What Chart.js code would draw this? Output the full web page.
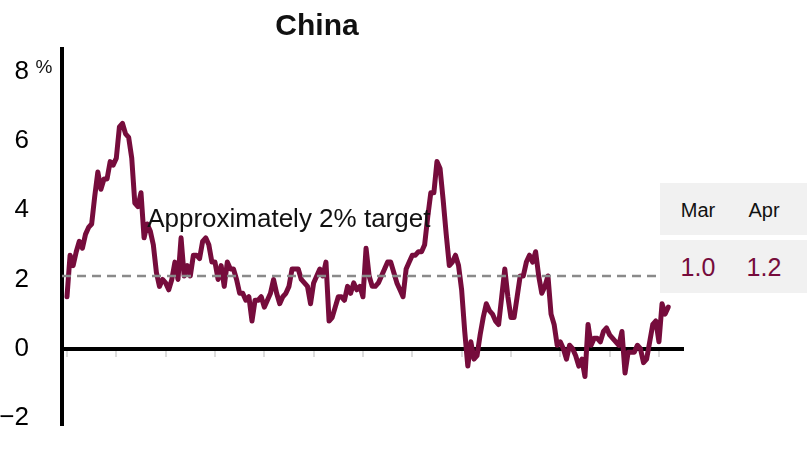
<!DOCTYPE html>
<html>
<head>
<meta charset="utf-8">
<script src="https://cdn.jsdelivr.net/npm/chart.js@4.4.1/dist/chart.umd.min.js"></script>
<style>
  html, body { margin: 0; padding: 0; background: #fff; }
  #wrap { position: relative; width: 807px; height: 476px; font-family: "Liberation Sans", Arial, sans-serif; }
  #chart { position: absolute; left: 0; top: 0; }
  .box { position: absolute; left: 660px; width: 147px; background: #f1f1f1; }
  .cell { position: absolute; width: 66px; text-align: center; }
  #head { top: 183px; height: 52px; }
  #vals { top: 240px; height: 53px; }
  #head .cell { top: 16px; font-size: 20px; color: #111; }
  #vals .cell { top: 13px; font-size: 25px; color: #760c3c; }
</style>
</head>
<body>
<div id="wrap">
  <canvas id="chart" width="807" height="476"></canvas>
  <div class="box" id="head"></div>
  <div class="box" id="vals"></div>
</div>
<script>
// China CPI, % y/y, monthly from Jan 2010
const startYear = 2010;
const monthNames = ['Jan', 'Feb', 'Mar', 'Apr', 'May', 'Jun', 'Jul', 'Aug', 'Sep', 'Oct', 'Nov', 'Dec'];

const cpi2010 = [1.5, 2.7, 2.4, 2.8, 3.1, 2.9, 3.3, 3.5, 3.6, 4.4, 5.1, 4.6];
const cpi2011 = [4.9, 4.9, 5.4, 5.3, 5.5, 6.4, 6.5, 6.2, 6.1, 5.5, 4.2, 4.1];
const cpi2012 = [4.5, 3.2, 3.6, 3.4, 3.0, 2.2, 1.8, 2.0, 1.9, 1.7, 2.0, 2.5];
const cpi2013 = [2.0, 3.2, 2.1, 2.4, 2.1, 2.7, 2.7, 2.6, 3.1, 3.2, 3.0, 2.5];
const cpi2014 = [2.5, 2.0, 2.4, 1.8, 2.5, 2.3, 2.3, 2.0, 1.6, 1.6, 1.4, 1.5];
const cpi2015 = [0.8, 1.4, 1.4, 1.5, 1.2, 1.4, 1.6, 2.0, 1.6, 1.3, 1.5, 1.6];
const cpi2016 = [1.8, 2.3, 2.3, 2.3, 2.0, 1.9, 1.8, 1.3, 1.9, 2.1, 2.3, 2.1];
const cpi2017 = [2.5, 0.8, 0.9, 1.2, 1.5, 1.5, 1.4, 1.8, 1.6, 1.9, 1.7, 1.8];
const cpi2018 = [1.5, 2.9, 2.1, 1.8, 1.8, 1.9, 2.1, 2.3, 2.5, 2.5, 2.2, 1.9];
const cpi2019 = [1.7, 1.5, 2.3, 2.5, 2.7, 2.7, 2.8, 2.8, 3.0, 3.8, 4.5, 4.5];
const cpi2020 = [5.4, 5.2, 4.3, 3.3, 2.4, 2.5, 2.7, 2.4, 1.7, 0.5, -0.5, 0.2];
const cpi2021 = [-0.3, -0.2, 0.4, 0.9, 1.3, 1.1, 1.0, 0.8, 0.7, 1.5, 2.3, 1.5];
const cpi2022 = [0.9, 0.9, 1.5, 2.1, 2.1, 2.5, 2.7, 2.5, 2.8, 2.1, 1.6, 1.8];
const cpi2023 = [2.1, 1.0, 0.7, 0.1, 0.2, 0.0, -0.3, 0.1, 0.0, -0.2, -0.5, -0.3];
const cpi2024 = [-0.8, 0.7, 0.1, 0.3, 0.3, 0.2, 0.5, 0.6, 0.4, 0.3, 0.2, 0.1];
const cpi2025 = [0.5, -0.7, -0.1, -0.1, -0.1, 0.1, 0.0, -0.4, -0.3, 0.2, 0.7, 0.8];
const cpi2026 = [0.2, 1.3, 1.0, 1.2];

const yTicks = [-2, 0, 2, 4, 6, 8];
const xTickEvery = 16;          // months between x tick marks
const targetValue = 2.1;        // dashed "approximately 2%" line
const targetLabel = 'Approximately 2% target';
const chartTitle = 'China';

const cpi = [].concat(cpi2010, cpi2011, cpi2012, cpi2013, cpi2014, cpi2015, cpi2016,
    cpi2017, cpi2018, cpi2019, cpi2020, cpi2021, cpi2022, cpi2023, cpi2024, cpi2025, cpi2026);
const labels = cpi.map((v, i) => monthNames[i % 12] + ' ' + (startYear + Math.floor(i / 12)));

const lineColor = '#760c3c';

// latest two months table
const head = document.getElementById('head');
const vals = document.getElementById('vals');
cpi.slice(-2).forEach((v, k) => {
    const i = cpi.length - 2 + k;
    const left = (5 + k * 66) + 'px';
    const h = document.createElement('div');
    h.className = 'cell'; h.style.left = left; h.textContent = monthNames[i % 12];
    head.appendChild(h);
    const c = document.createElement('div');
    c.className = 'cell'; c.style.left = left; c.textContent = v.toFixed(1);
    vals.appendChild(c);
});

const overlay = {
    id: 'overlay',
    afterDatasetsDraw(chart) {
        const { ctx, scales: { x, y }, chartArea } = chart;
        const ty = y.getPixelForValue(targetValue);
        ctx.save();
        // target line
        ctx.strokeStyle = '#8a8a8a';
        ctx.lineWidth = 2.5;
        ctx.setLineDash([9, 6]);
        ctx.beginPath();
        ctx.moveTo(chartArea.left, ty);
        ctx.lineTo(chart.width, ty);
        ctx.stroke();
        ctx.setLineDash([]);
        // target label
        ctx.fillStyle = '#111';
        ctx.font = '26px "Liberation Sans", Arial, sans-serif';
        ctx.textAlign = 'left';
        ctx.textBaseline = 'alphabetic';
        ctx.fillText(targetLabel, x.getPixelForValue(26), y.getPixelForValue(3.5));
        // unit next to top tick
        ctx.font = '19px "Liberation Sans", Arial, sans-serif';
        ctx.textAlign = 'center';
        ctx.textBaseline = 'middle';
        ctx.fillText('%', 44, y.getPixelForValue(8) - 4);
        // title
        ctx.font = 'bold 30px "Liberation Sans", Arial, sans-serif';
        ctx.textBaseline = 'alphabetic';
        ctx.fillText(chartTitle, 317, 35);
        ctx.restore();
    }
};

new Chart(document.getElementById('chart'), {
    type: 'line',
    data: {
        labels: labels,
        datasets: [{
            label: 'CPI',
            data: cpi.map((v, i) => ({ x: i, y: v })),
            borderColor: lineColor,
            borderWidth: 5,
            pointRadius: 0,
            tension: 0,
            borderJoinStyle: 'round',
            borderCapStyle: 'round',
            clip: false
        }]
    },
    options: {
        responsive: false,
        animation: false,
        events: [],
        layout: { padding: { top: 48, right: 124, bottom: 51, left: 0 } },
        plugins: {
            legend: { display: false },
            tooltip: { enabled: false }
        },
        scales: {
            x: {
                type: 'linear',
                min: -1.62,
                max: 199.8,
                position: { y: 0 },
                afterBuildTicks: s => {
                    const t = [];
                    for (let i = 0; i < cpi.length; i += xTickEvery) t.push({ value: i });
                    s.ticks = t;
                },
                afterFit: s => { s.height = 0; },
                ticks: { display: false },
                grid: {
                    display: true,
                    drawOnChartArea: false,
                    drawTicks: true,
                    tickLength: 6,
                    color: '#dcdcdc',
                    lineWidth: 2
                },
                border: { display: true, color: '#000', width: 4 }
            },
            y: {
                min: -2.2,
                max: 8.66,
                afterBuildTicks: s => { s.ticks = yTicks.map(v => ({ value: v })); },
                afterFit: s => { s.width = 62; },
                ticks: {
                    padding: 33,
                    color: '#000',
                    font: { family: '"Liberation Sans", Arial, sans-serif', size: 26 },
                    callback: v => (v < 0 ? '\u2212' + Math.abs(v) : String(v))
                },
                grid: { display: false, drawTicks: false },
                border: { display: true, color: '#000', width: 4 }
            }
        }
    },
    plugins: [overlay]
});
</script>
</body>
</html>
